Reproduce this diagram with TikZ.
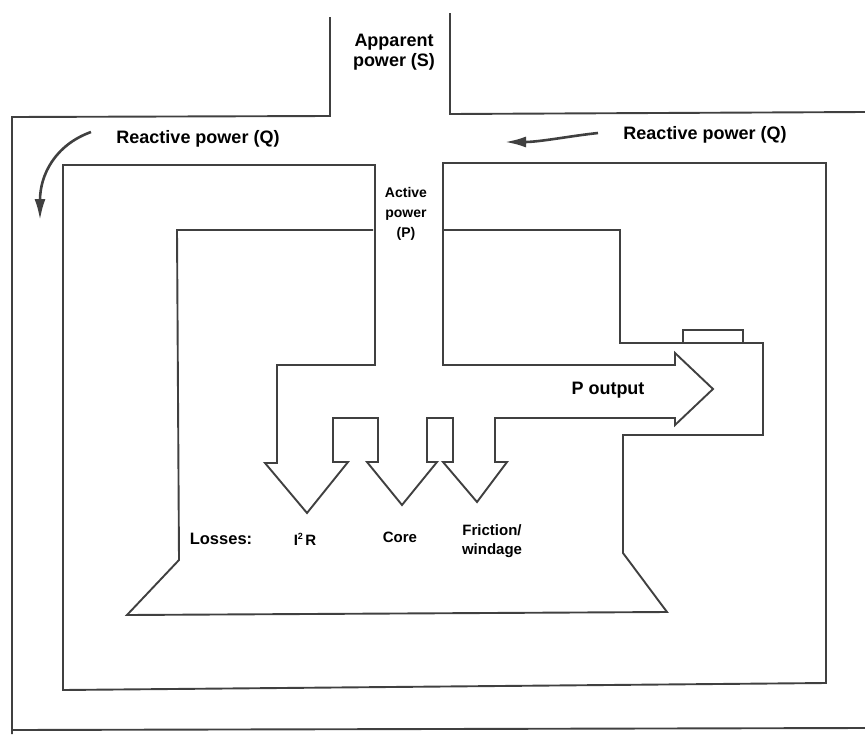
\documentclass[tikz,border=0pt]{standalone}
\usepackage{fontspec}
\setmainfont{Liberation Sans}
\usepackage{tikz}
\usetikzlibrary{arrows.meta}
\tikzstyle{lbl}=[font=\bfseries\fontsize{18pt}{20pt}\selectfont, inner sep=0pt, align=center]
\tikzstyle{act}=[font=\bfseries\fontsize{14pt}{20pt}\selectfont, inner sep=0pt, align=center]
\tikzstyle{loss}=[font=\bfseries\fontsize{15pt}{19pt}\selectfont, inner sep=0pt, align=center]
\tikzstyle{wall}=[draw=black!75, line width=1.9pt, line join=miter]
\tikzstyle{flow}=[->, draw=black!75, line width=2.6pt]

\begin{document}
\begin{tikzpicture}[x=1pt, y=-1pt]

\tikzset{>={Latex[length=21pt, width=11pt]}}

\useasboundingbox (0,0) rectangle (865,734);

% Outer frame (apparent power comes in at the top)
\draw[wall] (330,17) -- (330,116) -- (12,117) -- (12,734);
\draw[wall] (450,13) -- (450,114) -- (865,112);
\draw[wall] (12,730) -- (865,728);

% Middle frame, with active power channel and the loss arrows
\draw[wall] (443,163) -- (826,163) -- (826,683) -- (63,690) -- (63,165) -- (375,165)
  -- (375,365) -- (277,365) -- (277,463)
  -- (265,463) -- (307,513) -- (348,462) -- (333,462) -- (333,418) -- (378,418) -- (378,462) % I2R
  -- (367,462) -- (402,505) -- (437,462) -- (427,462) -- (427,418) -- (453,418) -- (453,462) % core
  -- (443,462) -- (477,502) -- (507,462) -- (495,462) -- (495,418) % friction
  -- (675,418) -- (675,425) -- (713,389) -- (675,353) -- (675,365) -- (443,365) -- cycle; % output

% Inner frame (the machine)
\draw[wall] (373,230) -- (177,230) -- (179,560) -- (127,615) -- (667,612) -- (623,553)
  -- (623,435) -- (763,435) -- (763,343) -- (620,343) -- (620,230) -- (443,230);
\draw[wall] (683,343) -- (683,330) -- (743,330) -- (743,343);

% Labels
\node[lbl] (apparent) at (394,52) {Apparent\\power (S)};
\node[lbl] (reactL) at (198,139) {Reactive power (Q)};
\node[lbl] (reactR) at (705,135) {Reactive power (Q)};
\node[act] (active) at (406,214) {Active\\power\\(P)};
\node[lbl] (pout) at (608,390) {P output};
\node[loss, font=\bfseries\fontsize{16.5pt}{19pt}\selectfont] (losses) at (221,539) {Losses:};
\node[loss] (i2r) at (305,539) {I\raisebox{0.75ex}{\fontsize{9pt}{9pt}\selectfont 2}\,R};
\node[loss] (core) at (400,537) {Core};
\node[loss] (friction) at (492,541) {Friction/\\windage};

% Reactive power arrows
\coordinate (qLa) at (91,132);
\coordinate (qLb) at (40,220);
\coordinate (qRa) at (598,133);
\coordinate (qRb) at (505,142);
\draw[flow] (qLa) .. controls (55,145) and (40,175) .. (qLb);
\draw[flow] (qRa) .. controls (570,136) and (540,142) .. (qRb);

\end{tikzpicture}
\end{document}
